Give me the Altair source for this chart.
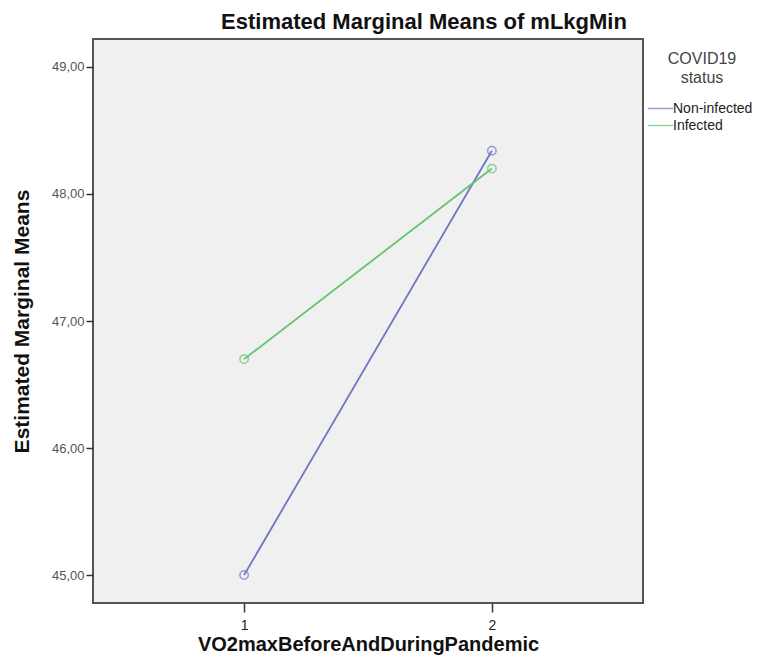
import altair as alt
import pandas as pd

# Data
periods = [1, 2, 1, 2]
groups = ["Non-infected", "Non-infected", "Infected", "Infected"]
means = [45.00, 48.34, 46.70, 48.20]

group_order = ["Non-infected", "Infected"]
group_colors = ["#6d76c2", "#62c46f"]
y_ticks = [45, 46, 47, 48, 49]
x_ticks = [1, 2]

df = pd.DataFrame({"period": periods, "group": groups, "mean": means})

FONT = "Liberation Sans"

x_enc = alt.X(
    "period:Q",
    scale=alt.Scale(domain=[0.39, 2.61], nice=False, zero=False),
    axis=alt.Axis(
        values=x_ticks, format="d", grid=False,
        title="VO2maxBeforeAndDuringPandemic",
        titleFontSize=20, titleFontWeight="bold", titleFont=FONT, titleColor="#111",
        titleY=41, titleBaseline="middle",
        labelFontSize=14, labelFont=FONT, labelColor="#222", labelPadding=6,
        tickSize=9, tickColor="#333", tickWidth=1.5,
        domain=False,
    ),
)
y_enc = alt.Y(
    "mean:Q",
    scale=alt.Scale(domain=[44.78, 49.22], nice=False, zero=False),
    axis=alt.Axis(
        values=y_ticks, grid=False,
        labelExpr="replace(format(datum.value, '.2f'), '.', ',')",
        title="Estimated Marginal Means",
        titleFontSize=21, titleFontWeight="bold", titleFont=FONT, titleColor="#111",
        titleX=-71, titleBaseline="middle",
        labelFontSize=13, labelFont=FONT, labelColor="#555", labelPadding=2,
        tickSize=7, tickColor="#333", tickWidth=1.5,
        domain=False,
    ),
)
color_enc = alt.Color(
    "group:N",
    scale=alt.Scale(domain=group_order, range=group_colors),
    legend=alt.Legend(
        title=["COVID19", "status"], orient="none", legendX=559, legendY=12,
        titleFontSize=16, titleFontWeight="normal", titleFont=FONT, titleColor="#444",
        titleAnchor="middle", titleAlign="center", titleLineHeight=19, titlePadding=14,
        labelFontSize=14, labelFont=FONT, labelColor="#222", labelOffset=4,
        symbolType="M-1.7,0H1.7", symbolSize=225, symbolStrokeWidth=1.5,
        rowPadding=1,
    ),
)

lines = alt.Chart(df).mark_line(strokeWidth=1.8).encode(x=x_enc, y=y_enc, color=color_enc, detail="group:N")
points = alt.Chart(df).mark_point(filled=False, size=70, strokeWidth=1.5).encode(
    x=x_enc, y=y_enc, color=alt.Color("group:N", scale=alt.Scale(domain=group_order, range=group_colors))
)

chart = (
    alt.layer(lines, points)
    .properties(
        width=550, height=564,
        autosize=alt.AutoSizeParams(type="none"),
        padding={"left": 85, "top": 31, "right": 113, "bottom": 54},
        title=alt.TitleParams(
            "Estimated Marginal Means of mLkgMin",
            fontSize=22, fontWeight="bold", font=FONT, color="#111",
            anchor="middle", dx=56, offset=5,
        ),
        background="white",
    )
    .configure_view(fill="#f0f0f0", stroke="#555", strokeWidth=2)
)

chart.save("out.html", embed_options={"renderer": "svg", "actions": False})
